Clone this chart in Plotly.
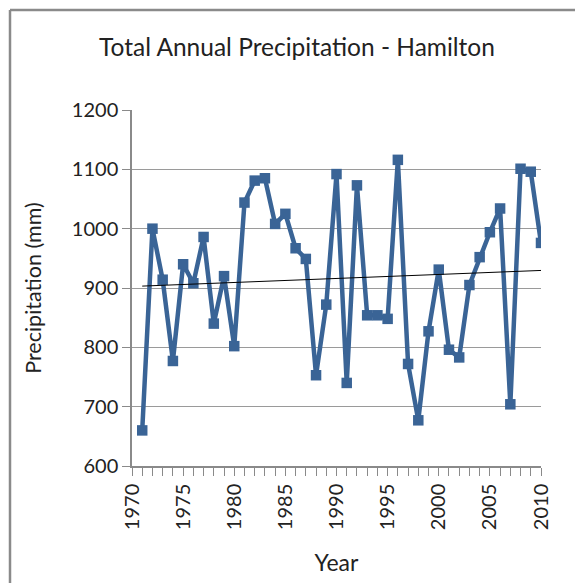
import numpy as np
import plotly.graph_objects as go

years = list(range(1971, 2011))
precip = [660, 1000, 914, 777, 940, 908, 986, 840, 920, 802,
          1044, 1081, 1085, 1008, 1025, 967, 949, 753, 872, 1092,
          740, 1073, 854, 854, 848, 1116, 772, 677, 827, 931,
          796, 783, 905, 952, 994, 1034, 704, 1101, 1096, 976]
y_ticks = [600, 700, 800, 900, 1000, 1100, 1200]
x_ticks = [1970, 1975, 1980, 1985, 1990, 1995, 2000, 2005, 2010]

coef = np.polyfit(years, precip, 1)
trend_x = [years[0], years[-1]]
trend_y = [float(np.polyval(coef, x)) for x in trend_x]

FONT = "Lato, 'Open Sans', sans-serif"
blue = "#3A6496"

L, T, PW, PH = 132, 110, 409, 356
W, H = 575, 583

fig = go.Figure()
fig.add_trace(go.Scatter(x=years, y=precip, mode="lines+markers",
                         line=dict(color=blue, width=4.5),
                         marker=dict(symbol="square", size=10.5, color=blue),
                         showlegend=False, hoverinfo="x+y"))
fig.add_trace(go.Scatter(x=trend_x, y=trend_y, mode="lines",
                         line=dict(color="black", width=1),
                         showlegend=False, hoverinfo="skip"))

bx0 = (10 - L) / PW
bx1 = (600 - L) / PW
by0 = -(150 / PH)
by1 = 1 + 100 / PH

fig.update_layout(
    width=W, height=H,
    margin=dict(l=L, r=W - L - PW, t=T, b=H - T - PH, autoexpand=False),
    paper_bgcolor="white", plot_bgcolor="white",
    font=dict(family=FONT, color="#222"),
    title=dict(text="Total Annual Precipitation - Hamilton",
               x=297 / W, xanchor="center", y=1 - 47 / H, yanchor="middle",
               font=dict(size=24.5, family=FONT, color="#222")),
    xaxis=dict(range=[1970, 2010], tickvals=x_ticks, ticktext=[str(v) for v in x_ticks],
               tickangle=-90, ticks="outside", ticklen=8, tickcolor="#8a8a8a",
               tickfont=dict(size=20, family=FONT, color="#222"),
               showline=True, linecolor="#8a8a8a", linewidth=1.5,
               showgrid=False, zeroline=False, automargin=False,
               minor=dict(dtick=1, tick0=1970, ticks="outside", ticklen=8, tickcolor="#8a8a8a", showgrid=False),
               title=dict(text="Year", font=dict(size=23, family=FONT, color="#222"), standoff=26)),
    yaxis=dict(range=[600, 1200], tickvals=y_ticks, ticks="outside", ticklen=8, tickcolor="#8a8a8a",
               tickfont=dict(size=20, family=FONT, color="#222"),
               showline=True, linecolor="#8a8a8a", linewidth=1.5, automargin=False,
               showgrid=True, gridcolor="#9a9a9a", gridwidth=1.2, zeroline=False,
               title=dict(text="Precipitation (mm)", font=dict(size=21.5, family=FONT, color="#222"), standoff=24)),
    shapes=[
        dict(type="line", xref="paper", yref="paper", x0=bx0, x1=bx1, y0=by1, y1=by1,
             line=dict(color="#8a8a8a", width=2.5), layer="below"),
        dict(type="line", xref="paper", yref="paper", x0=bx0, x1=bx0, y0=by0, y1=by1,
             line=dict(color="#8a8a8a", width=2.5), layer="below"),
    ],
)

fig.write_html("out.html",
               config={"displayModeBar": False},
               post_script="document.body.style.margin='0';document.body.style.overflow='hidden';")
